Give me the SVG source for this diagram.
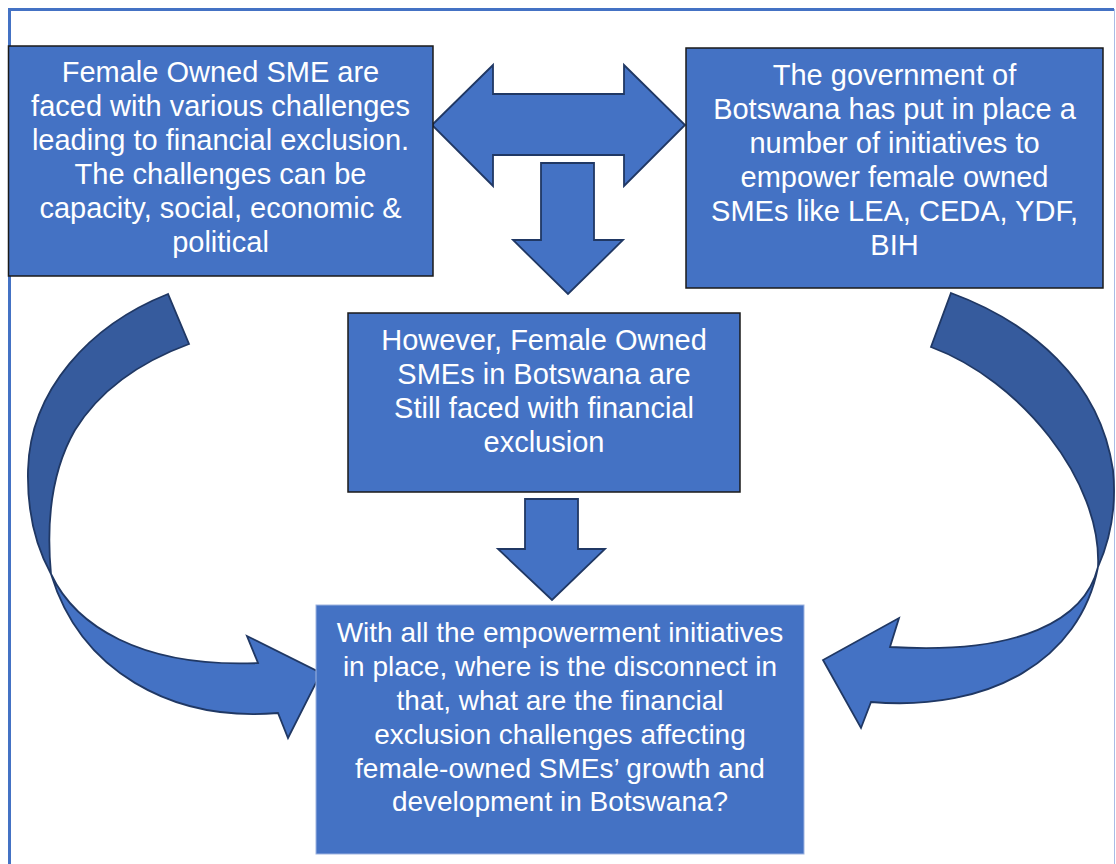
<svg xmlns="http://www.w3.org/2000/svg" width="1116" height="864" viewBox="0 0 1116 864">
<style>
.box{fill:#4472C4;stroke:#1A1A1A;stroke-width:1.5}
.box4{fill:#4472C4;stroke:#9DB3E0;stroke-width:1}
.arr{fill:#4472C4;stroke:#203864;stroke-width:1.8;stroke-linejoin:miter}
.back{fill:#365B9D;stroke:#203864;stroke-width:1.8}
.t{font-family:"Liberation Sans",Arial,sans-serif;font-size:29px;fill:#FFFFFF;text-anchor:middle}
.t4{font-size:28px}
</style>
<rect width="1116" height="864" fill="#FFFFFF"/>
<g id="frame">
<line x1="9.5" y1="9.5" x2="1114" y2="9.5" stroke="#4472C4" stroke-width="3"/>
<line x1="9.5" y1="8" x2="9.5" y2="864" stroke="#4472C4" stroke-width="3"/>
<line x1="1114.5" y1="9" x2="1114.5" y2="864" stroke="#A9BCE5" stroke-width="1"/>
</g>
<g id="connectors">
<path class="arr" d="M432,125 L493,65 L493,94 L624,94 L624,65 L685,125 L624,186 L624,155 L493,155 L493,186 Z"/>
<path class="arr" d="M541,163 L594,163 L594,240 L623,240 L568,294 L513,240 L541,240 Z"/>
<path class="arr" d="M525,499 L578,499 L578,549 L605,549 L552,600 L498,549 L525,549 Z"/>
<path class="back" d="M168,294 C90,325 30,390 28,470 C27,510 35,545 51,574 C46,520 52,470 75,430 C100,390 140,362 189,344 Z"/>
<path class="arr" d="M51,574 C75,625 140,668 258,663 L247,636 L321,673 L288,738 L278,713 C170,722 80,670 51,574 Z"/>
<path class="back" d="M951,293 C1030,322 1100,380 1113,470 C1117,510 1110,540 1098,567 C1102,480 1020,380 931,347 Z"/>
<path class="arr" d="M1098,567 C1085,620 1020,655 890,647 L899,618 L823,660 L861,728 L871,702 C990,712 1080,660 1098,567 Z"/>
</g>
<g id="node-challenges">
<rect class="box" x="8.5" y="46" width="424.5" height="230"/>
<text class="t" x="220.5" y="82">Female Owned SME are</text>
<text class="t" x="220.5" y="116">faced with various challenges</text>
<text class="t" x="220.5" y="150">leading to financial exclusion.</text>
<text class="t" x="220.5" y="184">The challenges can be</text>
<text class="t" x="220.5" y="218">capacity, social, economic &amp;</text>
<text class="t" x="220.5" y="252">political</text>
</g>
<g id="node-government">
<rect class="box" x="686" y="48" width="417" height="240"/>
<text class="t" x="894.5" y="85">The government of</text>
<text class="t" x="894.5" y="119">Botswana has put in place a</text>
<text class="t" x="894.5" y="153">number of initiatives to</text>
<text class="t" x="894.5" y="187">empower female owned</text>
<text class="t" x="894.5" y="221">SMEs like LEA, CEDA, YDF,</text>
<text class="t" x="894.5" y="255">BIH</text>
</g>
<g id="node-however">
<rect class="box" x="348" y="313" width="392" height="179"/>
<text class="t" x="544" y="350">However, Female Owned</text>
<text class="t" x="544" y="384">SMEs in Botswana are</text>
<text class="t" x="544" y="418">Still faced with financial</text>
<text class="t" x="544" y="452">exclusion</text>
</g>
<g id="node-question">
<rect class="box4" x="316" y="605" width="488" height="249"/>
<text class="t t4" x="560" y="642">With all the empowerment initiatives</text>
<text class="t t4" x="560" y="676">in place, where is the disconnect in</text>
<text class="t t4" x="560" y="710">that, what are the financial</text>
<text class="t t4" x="560" y="744">exclusion challenges affecting</text>
<text class="t t4" x="560" y="778">female-owned SMEs’ growth and</text>
<text class="t t4" x="560" y="811">development in Botswana?</text>
</g>
</svg>
